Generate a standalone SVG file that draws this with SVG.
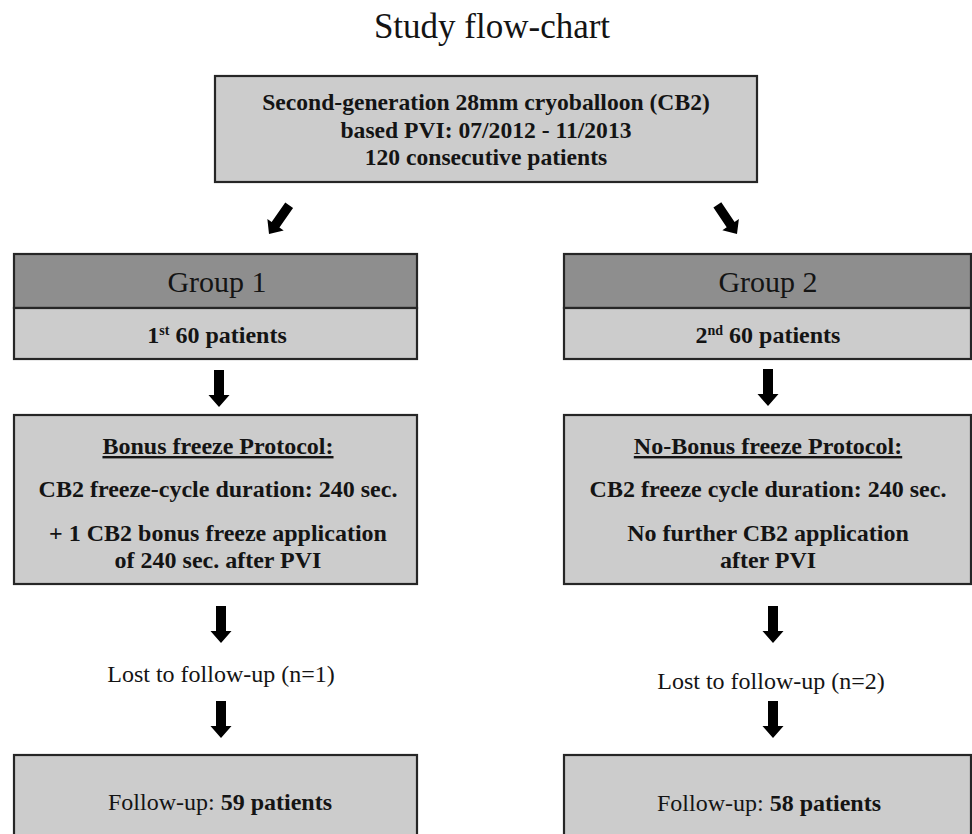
<svg xmlns="http://www.w3.org/2000/svg" xmlns:xlink="http://www.w3.org/1999/xlink" width="972" height="834" viewBox="0 0 972 834">
<style>
  text { font-family: "Liberation Serif", "Times New Roman", serif; fill: #141414; text-anchor: middle; }
  .box { fill: #cccccc; stroke: #262626; stroke-width: 2.2; }
  .hdr { fill: #8e8e8e; stroke: #262626; stroke-width: 2.2; }
  .b { font-weight: bold; font-size: 24px; }
  .tb { font-weight: bold; font-size: 23.6px; }
  .r { font-size: 24px; }
  .g { font-size: 30px; }
  .title { font-size: 35px; }
  .arrow { fill: #000; }
</style>
<defs>
  <path id="arr" d="M -5,-37 H 5 V -12 H 10.5 L 0,0 L -10.5,-12 H -5 Z"/>
</defs>
<rect width="972" height="834" fill="#ffffff"/>
<text class="title" x="492" y="38">Study flow-chart</text>

<g id="start">
  <rect class="box" x="215" y="76" width="542" height="106"/>
  <text class="tb" x="486" y="110">Second-generation 28mm cryoballoon (CB2)</text>
  <text class="tb" x="486" y="138">based PVI: 07/2012 - 11/2013</text>
  <text class="tb" x="486" y="165">120 consecutive patients</text>
</g>

<g id="group1">
  <rect class="hdr" x="14" y="254" width="403" height="54"/>
  <text class="g" x="217" y="292">Group 1</text>
  <rect class="box" x="14" y="308" width="403" height="51"/>
  <text class="b" x="217" y="343">1<tspan font-size="14" dy="-8">st</tspan><tspan dy="8"> 60 patients</tspan></text>
</g>

<g id="group2">
  <rect class="hdr" x="564" y="254" width="407" height="54"/>
  <text class="g" x="768" y="292">Group 2</text>
  <rect class="box" x="564" y="308" width="407" height="51"/>
  <text class="b" x="768" y="343">2<tspan font-size="14" dy="-8">nd</tspan><tspan dy="8"> 60 patients</tspan></text>
</g>

<g id="bonus">
  <rect class="box" x="14" y="415" width="403" height="169"/>
  <text class="b" x="218" y="454" text-decoration="underline">Bonus freeze Protocol:</text>
  <text class="b" x="218" y="497">CB2 freeze-cycle duration: 240 sec.</text>
  <text class="b" x="218" y="541">+ 1 CB2 bonus freeze application</text>
  <text class="b" x="218" y="568">of 240 sec. after PVI</text>
</g>

<g id="nobonus">
  <rect class="box" x="564" y="415" width="407" height="169"/>
  <text class="b" x="768" y="454" text-decoration="underline">No-Bonus freeze Protocol:</text>
  <text class="b" x="768" y="497">CB2 freeze cycle duration: 240 sec.</text>
  <text class="b" x="768" y="541">No further CB2 application</text>
  <text class="b" x="768" y="568">after PVI</text>
</g>

<g id="lost1">
  <text class="r" x="221" y="682">Lost to follow-up (n=1)</text>
</g>
<g id="lost2">
  <text class="r" x="771" y="689">Lost to follow-up (n=2)</text>
</g>

<g id="followup1">
  <rect class="box" x="14" y="755" width="403" height="90"/>
  <text class="r" x="220" y="810">Follow-up: <tspan font-weight="bold">59 patients</tspan></text>
</g>
<g id="followup2">
  <rect class="box" x="564" y="755" width="407" height="90"/>
  <text class="r" x="769" y="811">Follow-up: <tspan font-weight="bold">58 patients</tspan></text>
</g>

<g id="connectors" class="arrow">
  <use xlink:href="#arr" transform="translate(269,234) rotate(35) scale(0.95)"/>
  <use xlink:href="#arr" transform="translate(737,234) rotate(-34) scale(0.95)"/>
  <use xlink:href="#arr" transform="translate(219,407)"/>
  <use xlink:href="#arr" transform="translate(768,406)"/>
  <use xlink:href="#arr" transform="translate(221,643)"/>
  <use xlink:href="#arr" transform="translate(773,643)"/>
  <use xlink:href="#arr" transform="translate(221,738)"/>
  <use xlink:href="#arr" transform="translate(773,738)"/>
</g>
</svg>
